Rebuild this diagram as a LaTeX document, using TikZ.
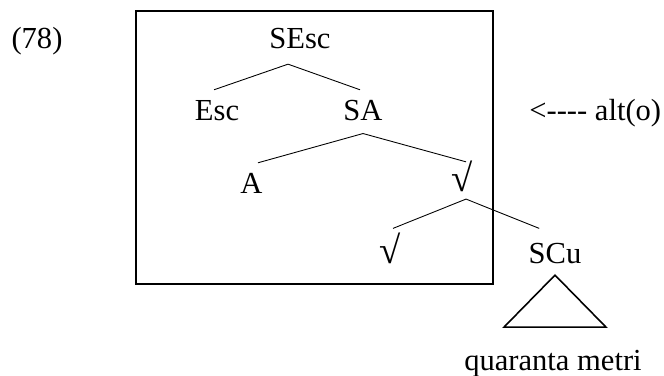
\documentclass[tikz,border=0pt]{standalone}
\usepackage{fontspec}
\setmainfont{Liberation Serif}
\usetikzlibrary{calc}

\begin{document}
\begin{tikzpicture}[x=0.02cm,y=-0.02cm,
    lbl/.style={font=\fontsize{17.4}{20}\selectfont,inner sep=0pt,anchor=base,
                text height=17pt,text depth=9pt},
    radlbl/.style={lbl,font=\fontsize{22}{24}\selectfont},
    branch/.style={line width=0.5pt}]
  \useasboundingbox (0,0) rectangle (664,376);

  % numero dell'esempio
  \node[lbl] (num) at (37,48) {(78)};

  % riquadro
  \draw[line width=1.1pt] (136,11) rectangle (493,284);

  % albero
  \node[lbl] (sesc)  at (300,48)  {SEsc};
  \node[lbl] (esc)   at (217,120) {Esc};
  \node[lbl] (sa)    at (363,120) {SA};
  \node[lbl] (a)     at (251.5,193) {A};
  \node[radlbl] (rad)   at (462,191) {√};
  \node[radlbl] (radlo) at (390,263) {√};
  \node[lbl] (scu)   at (555,263) {SCu};
  \node[lbl] (qm)    at (553,370) {quaranta metri};

  \draw[branch] ([xshift=-6.8pt]sesc.south) -- ([xshift=-1.7pt]esc.north);
  \draw[branch] ([xshift=-6.8pt]sesc.south) -- ([xshift=-1.7pt]sa.north);
  \draw[branch] ([yshift=1.5pt]sa.south) -- ([xshift=3.7pt]a.north);
  \draw[branch] ([yshift=1.5pt]sa.south) -- ([xshift=2.3pt,yshift=-0.6pt]rad.north);
  \draw[branch] ([xshift=2.3pt,yshift=4.6pt]rad.south) -- ([xshift=1.7pt,yshift=2.5pt]radlo.north);
  \draw[branch] ([xshift=2.3pt,yshift=4.6pt]rad.south) -- ([xshift=-9pt,yshift=2.5pt]scu.north);

  % triangolo
  \draw[line width=0.9pt] ([yshift=2.3pt]scu.south) -- ++(-51,52) -- ++(102,0) -- cycle;

  % freccia
  \node[lbl,anchor=base west] (alt) at (529,120) {<{-}{-}{-}{-} alt(o)};

\end{tikzpicture}
\end{document}
